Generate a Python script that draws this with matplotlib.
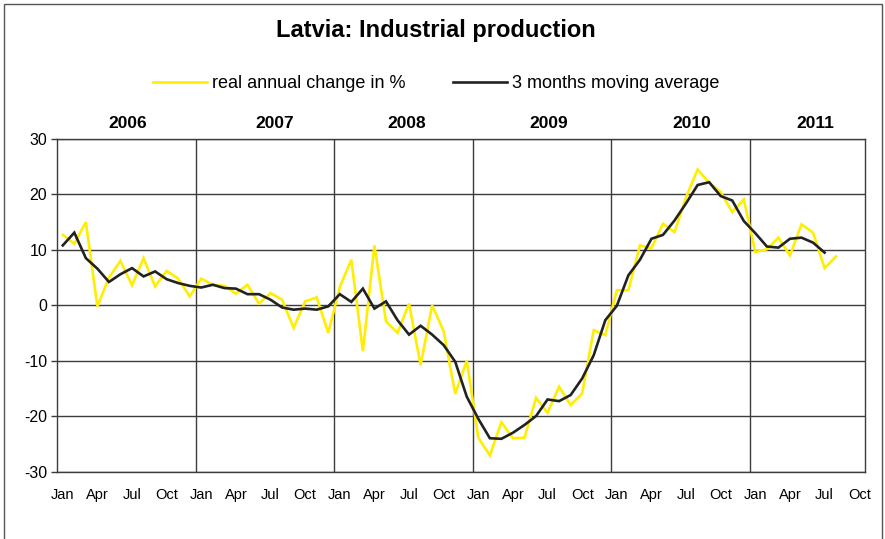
import matplotlib
matplotlib.use("Agg")
import matplotlib.pyplot as plt
from matplotlib.patches import Rectangle
from matplotlib.lines import Line2D

# Monthly series, Jan 2006 onwards
real_change = [12.7, 11.1, 15.0, -0.2, 5.0, 8.0, 3.6, 8.5, 3.4, 6.2, 4.8, 1.6,
               4.8, 3.7, 3.5, 2.1, 3.7, 0.3, 2.2, 1.0, -4.1, 0.7, 1.4, -5.0,
               3.3, 8.2, -8.3, 10.8, -2.9, -5.0, 0.3, -10.8, 0.0, -4.7, -16.0, -10.0,
               -23.9, -27.1, -21.1, -24.0, -23.9, -16.7, -19.4, -14.7, -18.0, -15.9, -4.5, -5.4,
               2.7, 2.7, 10.8, 10.3, 14.7, 13.2, 19.5, 24.5, 22.1, 20.4, 16.8, 19.1,
               9.6, 10.1, 12.2, 9.0, 14.6, 13.1, 6.7, 8.8]
moving_avg = [10.8, 13.1, 8.5, 6.6, 4.2, 5.6, 6.7, 5.2, 6.1, 4.7, 4.0, 3.5,
              3.2, 3.7, 3.1, 3.0, 2.0, 2.0, 1.0, -0.4, -0.8, -0.6, -0.8, -0.2,
              2.0, 0.6, 3.0, -0.6, 0.7, -2.7, -5.3, -3.7, -5.3, -7.2, -10.2, -16.5,
              -20.5, -24.0, -24.1, -23.0, -21.6, -20.0, -17.0, -17.3, -16.2, -13.2, -9.0, -2.7,
              -0.1, 5.4, 8.2, 12.0, 12.7, 15.3, 18.4, 21.7, 22.2, 19.7, 18.9, 15.2,
              13.0, 10.6, 10.4, 12.0, 12.2, 11.3, 9.5]

years = ["2006", "2007", "2008", "2009", "2010", "2011"]
year_label_px = [128, 275, 407, 549, 692, 815]
month_labels = ["Jan", "Apr", "Jul", "Oct"]
n_months = 70  # Jan 2006 .. Oct 2011
y_ticks = [30, 20, 10, 0, -10, -20, -30]

W, H = 885, 539
fig = plt.figure(figsize=(W / 100, H / 100), dpi=100)
plt.rcParams["font.family"] = ["Liberation Sans", "DejaVu Sans"]

# outer frame
fig.patches.append(Rectangle((4 / W, -0.05), (882 - 4) / W, 1.05 - 4 / H,
                             transform=fig.transFigure, fill=False,
                             edgecolor="#555555", linewidth=1.0))

left, right, top, bottom = 57, 865, 139, 471.5
ax = fig.add_axes([left / W, 1 - bottom / H, (right - left) / W, (bottom - top) / H])

x_real = list(range(len(real_change)))
x_avg = list(range(len(moving_avg)))
ax.plot(x_real, real_change, color="#FFEE00", linewidth=1.9, solid_joinstyle="miter", zorder=3)
ax.plot(x_avg, moving_avg, color="#222222", linewidth=1.9, solid_joinstyle="miter", zorder=4)

ax.set_xlim(-0.5, n_months - 0.5)
ax.set_ylim(-30, 30)

# grid: horizontal every 10, vertical at year boundaries
for y in y_ticks:
    ax.axhline(y, color="#3c3c3c", linewidth=1.0, zorder=1)
for k in range(1, 6):
    ax.axvline(12 * k - 0.5, color="#3c3c3c", linewidth=1.0, zorder=1)

for s in ax.spines.values():
    s.set_color("#3c3c3c")
    s.set_linewidth(1.0)

ax.set_yticks(y_ticks)
ax.set_yticklabels([str(v) for v in y_ticks], fontsize=11.5)
ax.tick_params(axis="y", length=4, width=1.0, color="#3c3c3c", pad=3)

ticks = list(range(0, n_months, 3))
ax.set_xticks(ticks)
ax.set_xticklabels([month_labels[(t // 3) % 4] for t in ticks], fontsize=10.5)
ax.tick_params(axis="x", length=0, pad=12)

# year captions above the plot area
for yr, px in zip(years, year_label_px):
    fig.text(px / W, 1 - 124 / H, yr, ha="center", va="center",
             fontsize=12.5, fontweight="bold")

fig.text(436 / W, 1 - 31 / H, "Latvia: Industrial production", ha="center",
         va="center", fontsize=17, fontweight="bold")

handles = [Line2D([], [], color="#FFEE00", linewidth=1.9),
           Line2D([], [], color="#222222", linewidth=1.9)]
fig.legend(handles, ["real annual change in %", "3 months moving average"],
           loc="center", bbox_to_anchor=(436 / W, 1 - 84 / H), ncol=2,
           frameon=False, fontsize=13, handlelength=3.0, handletextpad=0.3,
           columnspacing=2.6)

fig.savefig("out.png", dpi=100)
